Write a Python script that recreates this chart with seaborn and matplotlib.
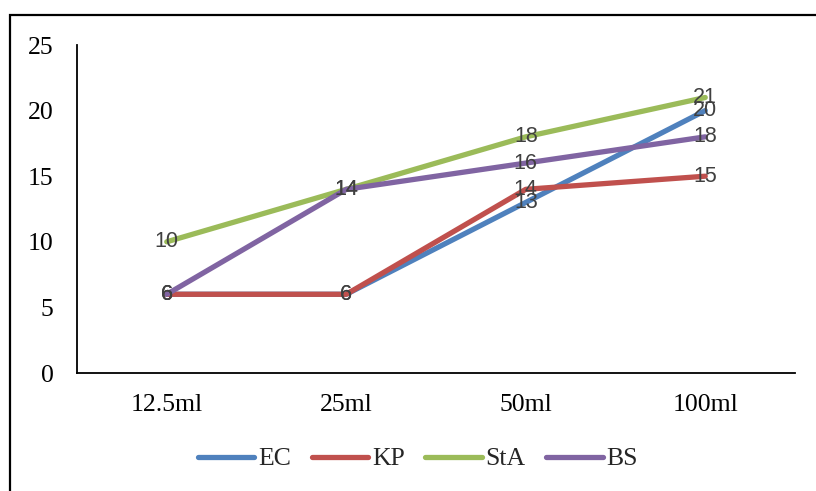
import matplotlib
matplotlib.use("Agg")
import matplotlib.pyplot as plt
import matplotlib.patches as mpatches
import seaborn as sns
import pandas as pd

# Volumes tested and zone values per organism
volumes = ["12.5ml", "25ml", "50ml", "100ml"]
ec = [6, 6, 13, 20]
kp = [6, 6, 14, 15]
sta = [10, 14, 18, 21]
bs = [6, 14, 16, 18]

series_names = ["EC", "KP", "StA", "BS"]
series_values = [ec, kp, sta, bs]
colors = ["#4F81BD", "#C0504D", "#9BBB59", "#8064A2"]
yticks = [0, 5, 10, 15, 20, 25]

rows = []
for name, vals in zip(series_names, series_values):
    for vol, v in zip(volumes, vals):
        rows.append({"Volume": vol, "Value": v, "Organism": name})
df = pd.DataFrame(rows)

sns.set_theme(style="white")
plt.rcParams["font.family"] = ["Liberation Serif", "DejaVu Serif"]

W, H = 816, 491
fig = plt.figure(figsize=(W / 100, H / 100), dpi=100)
ax = fig.add_axes([77 / W, 1 - 373 / H, (795 - 77) / W, (373 - 45) / H])

sns.lineplot(
    data=df, x="Volume", y="Value", hue="Organism",
    hue_order=series_names, palette=colors, sort=False,
    linewidth=3.8, ax=ax, legend=False,
    solid_capstyle="round", solid_joinstyle="round",
)

# Value labels centred on each point
for name, vals in zip(series_names, series_values):
    for i, v in enumerate(vals):
        ax.text(i, v, str(v), ha="center", va="center", fontsize=15.5,
                color="#404040", family=["Liberation Sans", "DejaVu Sans"],
                zorder=5)

ax.set_xlim(-0.5, len(volumes) - 0.5)
ax.set_ylim(0, 25)
ax.set_yticks(yticks)
ax.set_yticklabels([str(t) for t in yticks])
ax.set_xlabel("")
ax.set_ylabel("")
ax.tick_params(axis="both", length=0, labelsize=18.5, colors="black")
ax.tick_params(axis="y", pad=17)
ax.tick_params(axis="x", pad=15)
for side in ["top", "right"]:
    ax.spines[side].set_visible(False)
for side in ["left", "bottom"]:
    ax.spines[side].set_color("black")
    ax.spines[side].set_linewidth(1.3)
ax.grid(False)

handles = [plt.Line2D([], [], color=c, linewidth=3.8, solid_capstyle="round")
           for c in colors]
fig.legend(handles, series_names, loc="center",
           bbox_to_anchor=(418 / W, 1 - 459 / H), ncol=4, frameon=False,
           fontsize=18.5, handlelength=2.2, handletextpad=0.15,
           columnspacing=0.8)

# Outer frame around the chart area
frame = mpatches.Rectangle((10 / W, -0.1), 1.2, 1.1 - 15 / H,
                           transform=fig.transFigure, fill=False,
                           edgecolor="black", linewidth=1.6, zorder=10)
fig.add_artist(frame)

fig.savefig("out.png", dpi=100)
